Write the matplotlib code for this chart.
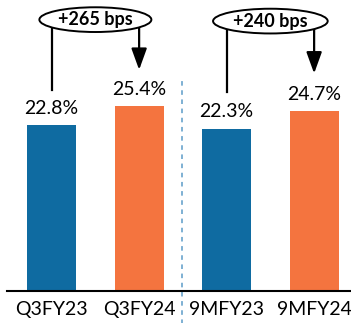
import matplotlib.pyplot as plt
from matplotlib.patches import Ellipse

periods = ['Q3FY23', 'Q3FY24', '9MFY23', '9MFY24']
margins = [22.8, 25.4, 22.3, 24.7]
changes = ['+265 bps', '+240 bps']

blue = '#0F6BA1'
orange = '#F4743F'
colors = [blue, orange, blue, orange]

plt.rcParams['font.family'] = ['Lato', 'DejaVu Sans']

fig = plt.figure(figsize=(3.51, 3.23), dpi=100)
ax = fig.add_axes([7 / 351, 32 / 323, 343 / 351, 291 / 323])

x = list(range(len(periods)))
bars = ax.bar(x, margins, width=0.56, color=colors, zorder=2)
for xi, v in zip(x, margins):
    ax.annotate(f'{v:.1f}%', (xi, v), xytext=(0, 6), textcoords='offset points',
                ha='center', va='bottom', fontsize=14)

# growth callouts: line from the earlier bar, arrow down to the later one
for k, label in enumerate(changes):
    x0, x1 = 2 * k, 2 * k + 1
    y_top = 37.3 - 0.2 * k
    xc = (x0 + x1) / 2
    ax.add_patch(Ellipse((xc, y_top), 1.28 + 0.03 * k, 3.4, facecolor='white',
                         edgecolor='black', lw=1.4, zorder=4))
    ax.text(xc, y_top, label, ha='center', va='center', fontsize=13,
            fontweight='bold', zorder=5)
    ax.plot([x0, x0], [y_top, 27.6 - 0.3 * k], color='black', lw=1.6, zorder=3)
    ax.annotate('', xy=(x1, 30.4 - 0.5 * k), xytext=(x1, y_top),
                arrowprops=dict(arrowstyle='-|>,head_length=1.3,head_width=0.47',
                                color='black', lw=1.6, mutation_scale=10,
                                shrinkA=0, shrinkB=0), zorder=3)

ax.axvline(1.49, ymin=-0.12, ymax=0.73, color='#5B9BC8', lw=1.1,
           linestyle=(0, (3, 3)), clip_on=False)

ax.set_xlim(-0.51, 3.41)
ax.set_ylim(0, 40)
ax.set_xticks(x)
ax.set_xticklabels(periods, fontsize=14)
ax.tick_params(axis='x', length=0, pad=7)
ax.set_yticks([])
for side in ['top', 'left', 'right']:
    ax.spines[side].set_visible(False)
ax.spines['bottom'].set_linewidth(1.5)

fig.savefig('out.png', dpi=100)
